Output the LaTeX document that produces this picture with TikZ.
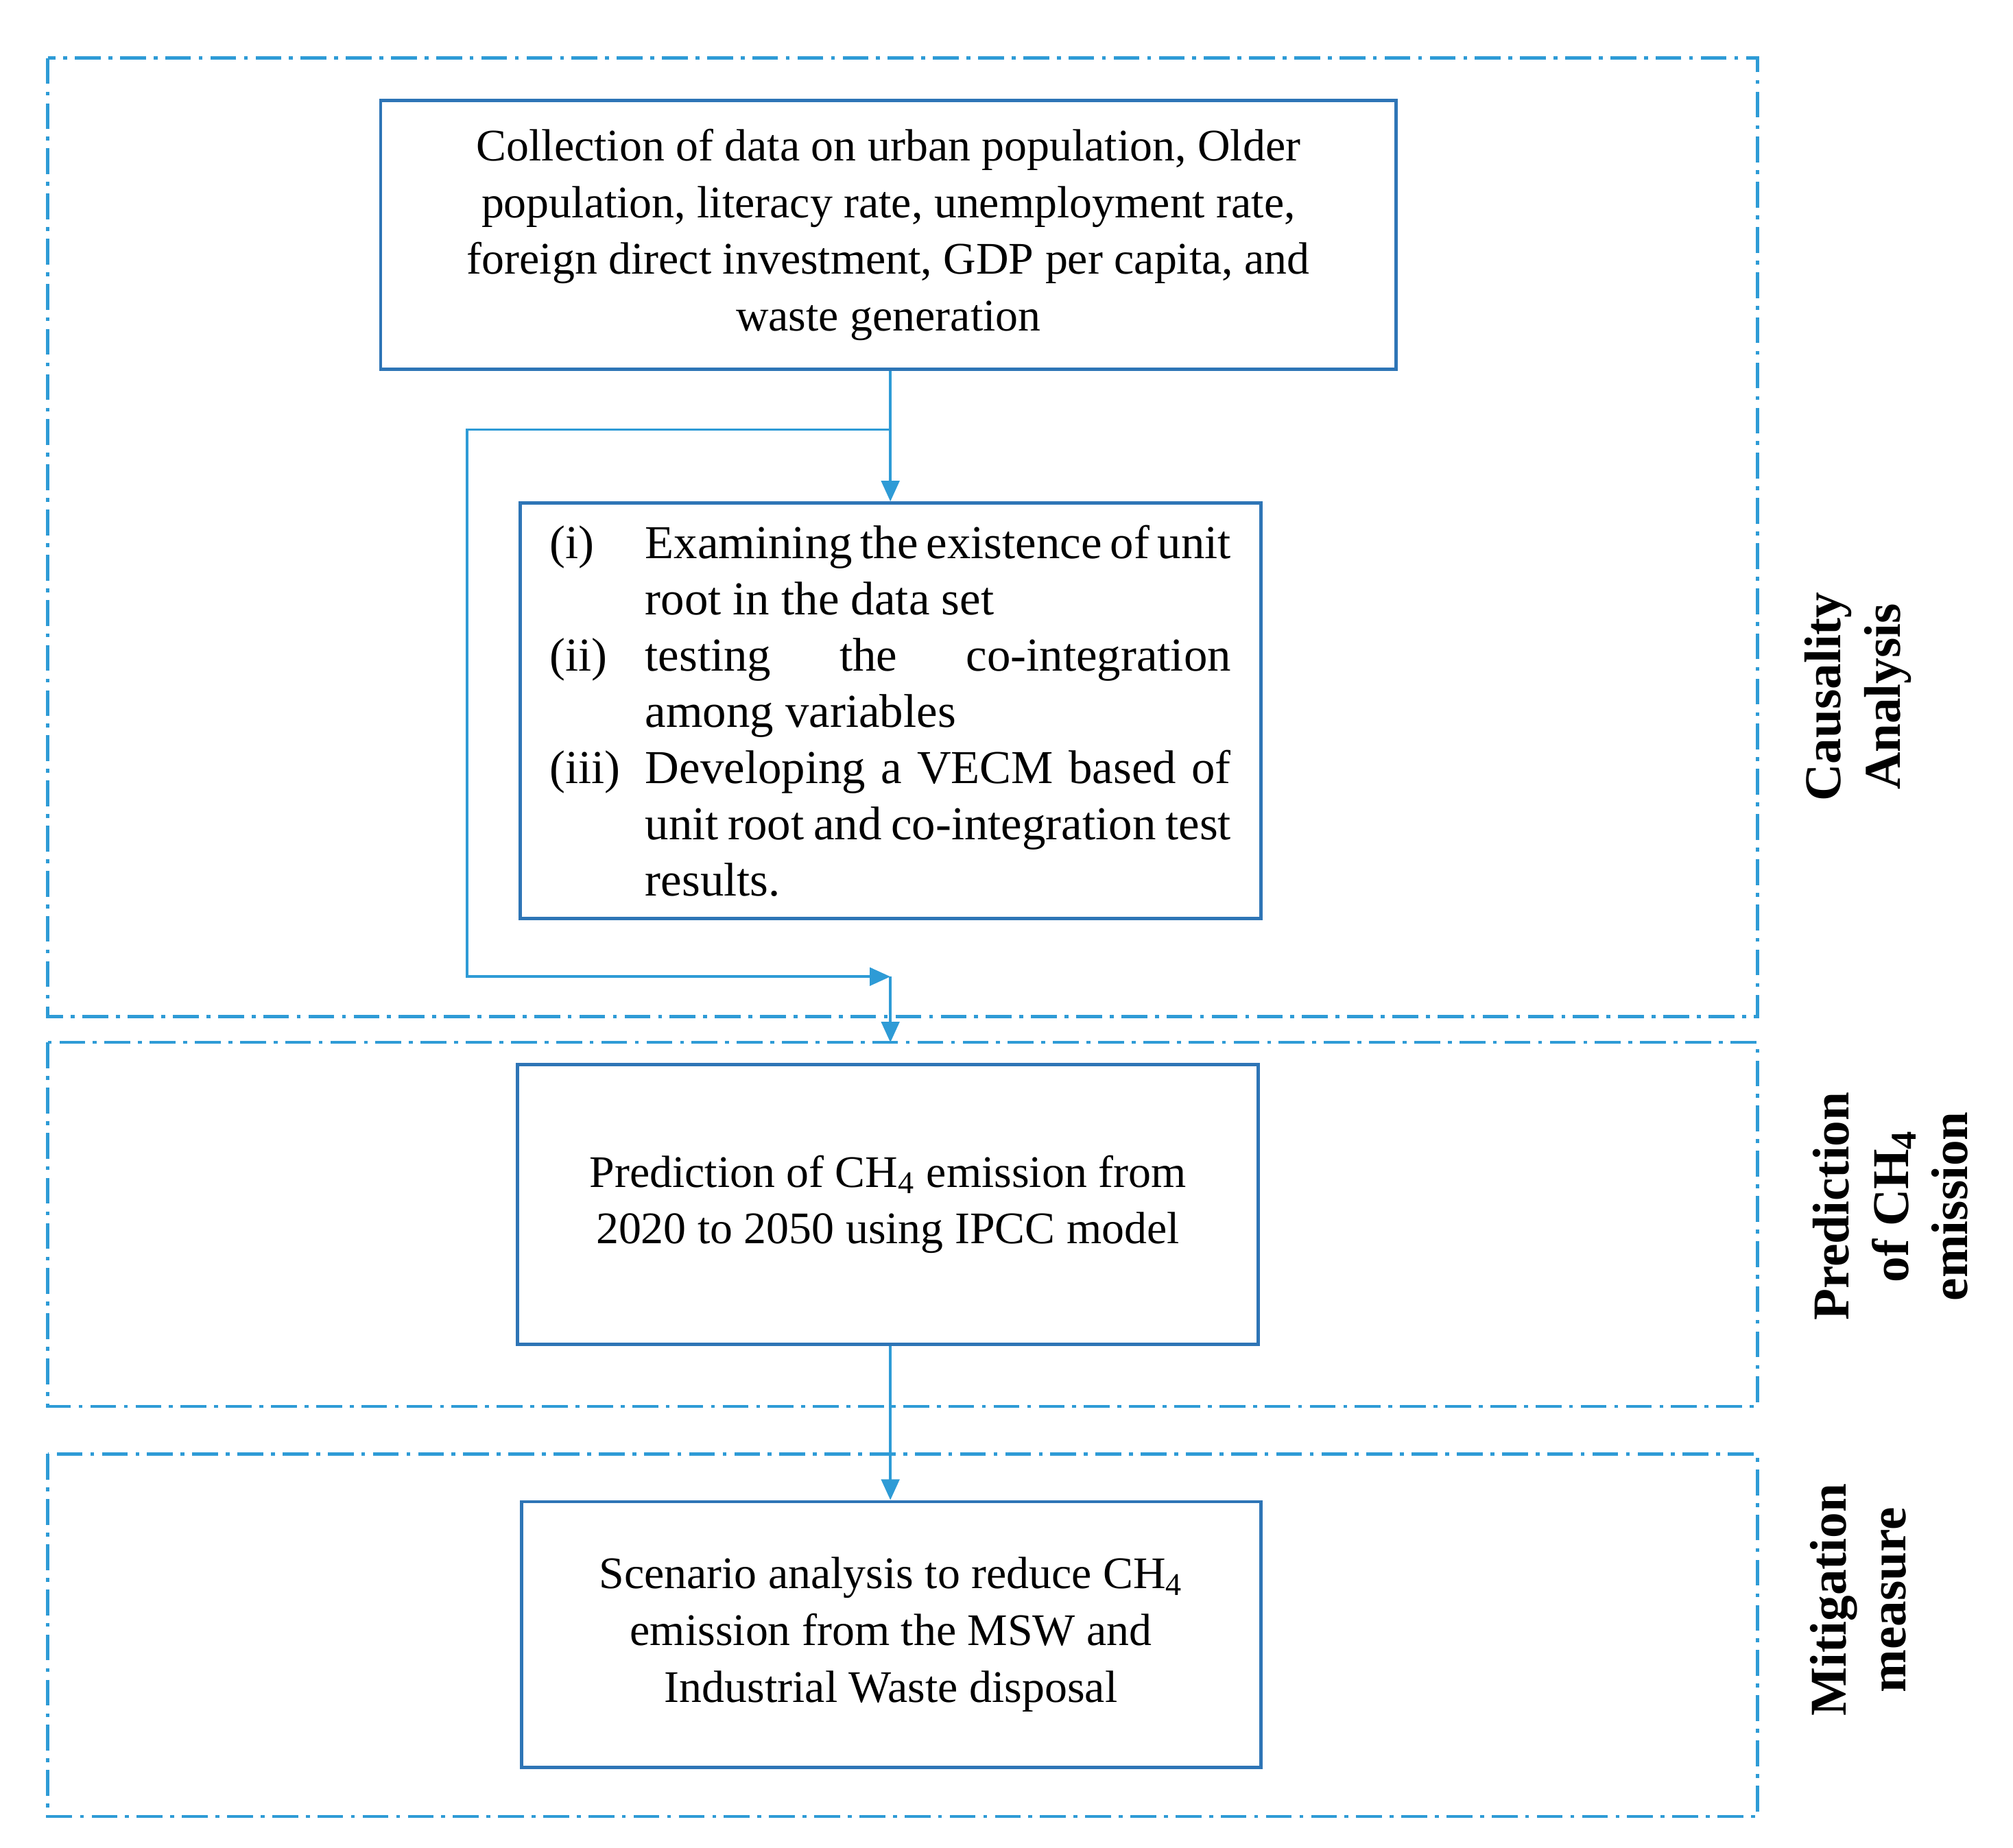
\documentclass[tikz,border=0pt]{standalone}
\usepackage{fontspec}
\setmainfont{Liberation Serif}
\usetikzlibrary{arrows.meta}
\definecolor{frame}{HTML}{2E9BD6}
\definecolor{boxc}{HTML}{2E75B6}
\begin{document}
\begin{tikzpicture}[x=0.5pt,y=-0.5pt,
  grp/.style={draw=frame,line width=1.2pt,dash pattern=on 10pt off 3pt on 1.5pt off 3pt},
  box/.style={draw=boxc,line width=1.3pt,align=center,font=\fontsize{17.5}{22}\selectfont},
  arr/.style={draw=frame,line width=1pt,-{Triangle[length=8pt,width=7pt]}},
  side/.style={rotate=90,align=center,font=\fontsize{20}{23}\bfseries\selectfont}]
\useasboundingbox (0,0) rectangle (1560,1432);
\draw[grp] (37,45) rectangle (1362,788);
\draw[grp] (37,808) rectangle (1362,1090);
\draw[grp] (37,1127) rectangle (1362,1408);
\node[box,minimum width=393.5pt,minimum height=104pt] (A) at (688.5,182) {Collection of data on urban population, Older\\population, literacy rate, unemployment rate,\\foreign direct investment, GDP per capita, and\\waste generation};
\node[box,minimum width=287pt,minimum height=161pt,inner sep=0pt] (B) at (690,551) {\parbox{264pt}{\fontsize{18.3}{21.8}\selectfont
\begin{list}{}{\leftmargin=37pt\labelwidth=34pt\labelsep=3pt\itemsep=0pt\parsep=0pt\topsep=0pt}
\item[(i)\hfill] Examining the existence of unit root in the data set
\item[(ii)\hfill] testing the co-integration among variables
\item[(iii)\hfill] Developing a VECM based of unit root and co-integration test results.
\end{list}}};
\node[box,minimum width=287pt,minimum height=108.5pt] (C) at (688,933.5) {Prediction of CH\textsubscript{4} emission from\\2020 to 2050 using IPCC model};
\node[box,minimum width=286.5pt,minimum height=103pt] (D) at (690.5,1267) {Scenario analysis to reduce CH\textsubscript{4}\\emission from the MSW and\\Industrial Waste disposal};
\coordinate (s) at (690,333);
\coordinate (l1) at (362,333);
\coordinate (l2) at (362,757);
\coordinate (m) at (690,757);
\coordinate (t) at (690,808);
\draw[arr] (A.south -| s) -- (B.north -| s);
\draw[arr] (s) -- (l1) -- (l2) -- (m);
\draw[arr] (m) -- (t);
\draw[arr] (C.south -| s) -- (D.north -| s);
\node[side] (L1) at (1440,540) {Causality\\Analysis};
\node[side] (L2) at (1465,935) {Prediction\\of CH\textsubscript{4}\\emission};
\node[side] (L3) at (1440,1240) {Mitigation\\measure};
\end{tikzpicture}
\end{document}
